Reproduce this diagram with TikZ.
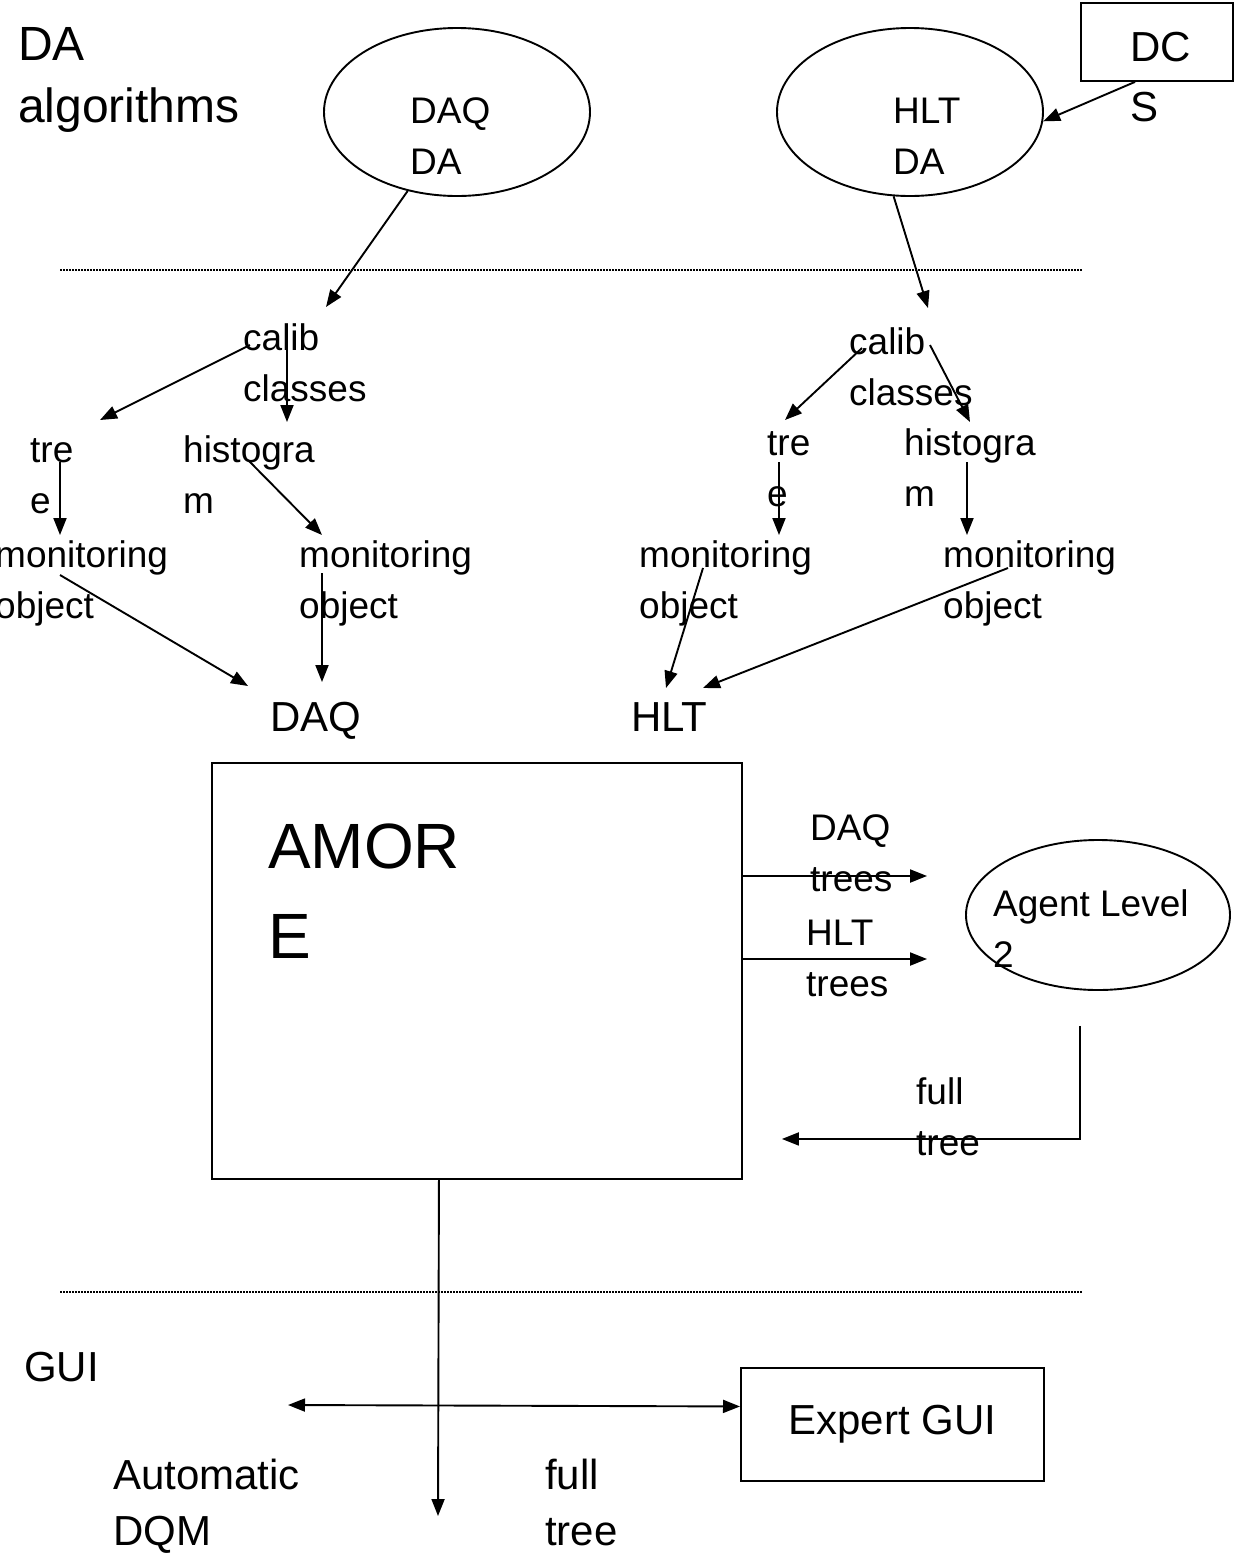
\documentclass[tikz,border=0pt]{standalone}
\usepackage{fontspec}
\setmainfont{Liberation Sans}
\usetikzlibrary{arrows.meta,shapes.geometric}
\tikzset{
  lbl/.style={inner sep=0pt,anchor=base west,align=left},
  lblS/.style={lbl,font=\fontsize{37}{51.5}\selectfont},
  lblM/.style={lbl,font=\fontsize{42}{56}\selectfont},
  lblL/.style={lbl,font=\fontsize{48}{62}\selectfont},
  lblXL/.style={lbl,font=\fontsize{64}{90}\selectfont},
  oval/.style={draw,ellipse,line width=1.9pt,inner sep=0pt},
  box/.style={draw,rectangle,line width=1.9pt,inner sep=0pt,anchor=north west},
  arrow/.style={-{Triangle[length=17pt,width=13pt]},line width=1.9pt},
  twoway/.style={{Triangle[length=17pt,width=13pt]}-{Triangle[length=17pt,width=13pt]},line width=1.9pt},
  divider/.style={line width=1.5pt,dash pattern=on 1.5pt off 1.5pt}
}
\begin{document}
\begin{tikzpicture}[x=1pt,y=-1pt]
  \useasboundingbox (0,0) rectangle (1236,1559);
  % DA layer
  \node[lblL] (dalgo) at (18,122) {DA\\algorithms};
  \node[oval,minimum width=266pt,minimum height=168pt] (daqda) at (457,112) {};
  \node[lblS] at (410,174.5) {DAQ\\DA};
  \node[oval,minimum width=266pt,minimum height=168pt] (hltda) at (910,112) {};
  \node[lblS] at (893,174.5) {HLT\\DA};
  \node[box,minimum width=152pt,minimum height=78pt] (dcs) at (1080,2) {};
  \node[lblM,font=\fontsize{42}{60}\selectfont] at (1130,121) {DC\\S};
  \draw[divider] (60,270) -- (1082,270);
  % calibration objects
  \node[lblS] (calibL) at (243,401.5) {calib\\classes};
  \node[lblS] (treL) at (30,513.5) {tre\\e};
  \node[lblS] (histL) at (183,513.5) {histogra\\m};
  \node[lblS] (monL1) at (-5,618.5) {monitoring\\object};
  \node[lblS] (monL2) at (299,618.5) {monitoring\\object};
  \node[lblM] (daqlbl) at (270,731) {DAQ};
  \node[lblS] (calibR) at (849,405.5) {calib\\classes};
  \node[lblS] (treR) at (767,506.5) {tre\\e};
  \node[lblS] (histR) at (904,506.5) {histogra\\m};
  \node[lblS] (monR1) at (639,618.5) {monitoring\\object};
  \node[lblS] (monR2) at (943,618.5) {monitoring\\object};
  \node[lblM] (hltlbl) at (631,731) {HLT};
  % AMORE and agent
  \node[box,minimum width=530pt,minimum height=416pt] (amore) at (211,762) {};
  \node[lblXL] at (268,958) {AMOR\\E};
  \node[oval,minimum width=264pt,minimum height=150pt] (agent) at (1098,915) {};
  \node[lblS] at (993,967.5) {Agent Level\\2};
  \node[lblS] at (810,891.5) {DAQ\\trees};
  \node[lblS] at (806,996.5) {HLT\\trees};
  \node[lblS] at (916,1155.5) {full\\tree};
  \draw[divider] (60,1292) -- (1082,1292);
  % GUI layer
  \node[lblM] (gui) at (24,1381) {GUI};
  \node[box,minimum width=303pt,minimum height=113pt,font=\fontsize{42}{56}\selectfont] (expert) at (740,1367) {Expert GUI};
  \node[lblM] (autodqm) at (113,1545) {Automatic\\DQM};
  \node[lblM] at (545,1545) {full\\tree};
  \coordinate (treeend) at (438,1516);
  \coordinate (autoend) at (288,1405);
  \draw[arrow] (daqda.238) -- ([shift={(83,-94.5)}]calibL.base west);
  \draw[arrow] (hltda.259) -- ([shift={(79,-97.5)}]calibR.base west);
  \draw[arrow] ([xshift=55pt]dcs.south west) -- (hltda.-4);
  \draw[arrow] ([shift={(7,-56.5)}]calibL.base west) -- ([shift={(70,-93.5)}]treL.base west);
  \draw[arrow] ([shift={(44,-59.5)}]calibL.base west) -- ([shift={(104,-91.5)}]histL.base west);
  \draw[arrow] ([shift={(30,-51.5)}]treL.base west) -- ([shift={(65,-83.5)}]monL1.base west);
  \draw[arrow] ([shift={(65,-53.5)}]histL.base west) -- ([shift={(23,-83.5)}]monL2.base west);
  \draw[arrow] ([shift={(65,-43.5)}]monL1.base west) -- ([shift={(-22,-45)}]daqlbl.base west);
  \draw[arrow] ([shift={(23,-45.5)}]monL2.base west) -- ([shift={(52,-49)}]daqlbl.base west);
  \draw[arrow] ([shift={(13,-57.5)}]calibR.base west) -- ([shift={(18,-86.5)}]treR.base west);
  \draw[arrow] ([shift={(81,-60.5)}]calibR.base west) -- ([shift={(66,-84.5)}]histR.base west);
  \draw[arrow] ([shift={(12,-44.5)}]treR.base west) -- ([shift={(140,-83.5)}]monR1.base west);
  \draw[arrow] ([shift={(63,-44.5)}]histR.base west) -- ([shift={(24,-83.5)}]monR2.base west);
  \draw[arrow] ([shift={(64,-50.5)}]monR1.base west) -- ([shift={(35,-43)}]hltlbl.base west);
  \draw[arrow] ([shift={(65,-50.5)}]monR2.base west) -- ([shift={(72,-43)}]hltlbl.base west);
  \draw[arrow] ([yshift=-114pt]amore.north east) -- ([xshift=-38pt,yshift=39pt]agent.west);
  \draw[arrow] ([yshift=-197pt]amore.north east) -- ([xshift=-38pt,yshift=-44pt]agent.west);
  \draw[arrow] ([xshift=-18pt,yshift=-35pt]agent.south) |- ([xshift=39pt,yshift=-168pt]amore.east);
  \draw[arrow] ([xshift=-38pt]amore.south) -- (treeend);
  \draw[twoway] (autoend) -- ([yshift=18pt]expert.west);
\end{tikzpicture}
\end{document}
